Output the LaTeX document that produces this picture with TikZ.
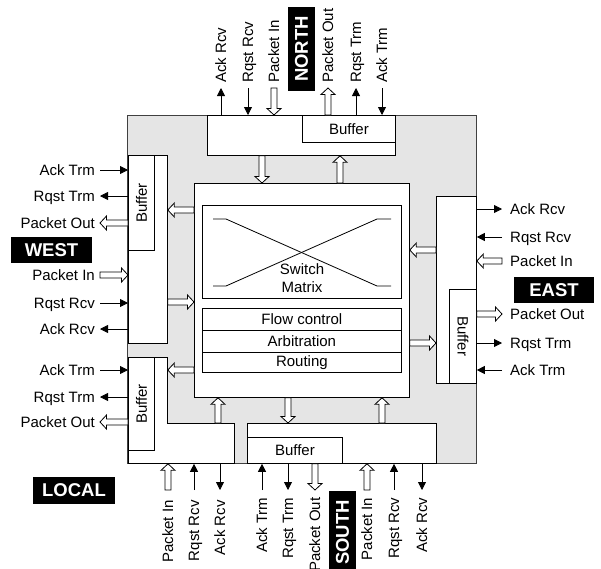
\documentclass[tikz,border=0pt]{standalone}
\usepackage{fontspec}
\setmainfont{Liberation Sans}
\usetikzlibrary{arrows.meta,calc}
\begin{document}
\begin{tikzpicture}[x=1pt,y=-1pt,
 box/.style={draw=black,fill=white,line width=0.8pt,inner sep=0pt,anchor=north west,font=\fontsize{15}{18}\selectfont},
 sarr/.style={draw=black,line width=0.8pt,-{Triangle[length=8pt,width=8pt]}},
 hollow/.style={draw=black,fill=white,line width=0.8pt,line join=miter,
   to path={($(\tikztostart)!3pt!90:(\tikztotarget)$)
    -- ($(\tikztotarget)!6.5pt!(\tikztostart)!3pt!-90:(\tikztostart)$)
    -- ($(\tikztotarget)!6.5pt!(\tikztostart)!7pt!-90:(\tikztostart)$)
    -- (\tikztotarget)
    -- ($(\tikztotarget)!6.5pt!(\tikztostart)!7pt!90:(\tikztostart)$)
    -- ($(\tikztotarget)!6.5pt!(\tikztostart)!3pt!90:(\tikztostart)$)
    -- ($(\tikztostart)!3pt!-90:(\tikztotarget)$) -- cycle}},
 lbl/.style={inner sep=0pt,text height=10pt,text depth=0pt,font=\fontsize{15}{18}\selectfont},
 txt/.style={inner sep=0pt,font=\fontsize{15}{18}\selectfont},
 tag/.style={fill=black,text=white,inner sep=0pt,font=\fontsize{18.5}{20}\selectfont\bfseries}
]
\fill[white] (0,0) rectangle (601,568);
\useasboundingbox (0,0) rectangle (601,568);
% router frame
\draw[fill=black!10,draw=black!75,line width=0.8pt] (127,115) rectangle (476,463);

% port boxes
\node[box,minimum width=188pt,minimum height=40pt] (nbox) at (207,115) {};
\node[box,minimum width=93pt,minimum height=27pt] (nbuf) at (302,115) {Buffer};
\node[box,minimum width=39pt,minimum height=188pt] (wbox) at (128,155) {};
\node[box,minimum width=26pt,minimum height=95pt] (wbuf) at (128,155) {};
\node[txt,rotate=90] at (wbuf.center) {Buffer};
\draw[fill=white,line width=0.8pt] (128,357) -- (167,357) -- (167,423) -- (234,423) -- (234,463) -- (128,463) -- cycle;
\node[box,minimum width=26pt,minimum height=93pt] (lbuf) at (128,357) {};
\node[txt,rotate=90] at (lbuf.center) {Buffer};
\node[box,minimum width=189pt,minimum height=40pt] (sbox) at (247,423) {};
\node[box,minimum width=95pt,minimum height=26pt] (sbuf) at (247,437) {Buffer};
\node[box,minimum width=40pt,minimum height=187pt] (ebox) at (436,196) {};
\node[box,minimum width=27pt,minimum height=94pt] (ebuf) at (449,289) {};
\node[txt,rotate=-90] at (ebuf.center) {Buffer};

% crossbar core
\node[box,minimum width=215pt,minimum height=214pt] (cbox) at (194,183) {};
\node[box,minimum width=199pt,minimum height=93pt] (swm) at (202,205) {};
\draw[line width=0.8pt] (213,219) -- (226,219) -- (377,286) -- (391,286);
\draw[line width=0.8pt] (213,286) -- (226,286) -- (377,219) -- (391,219);
\node[txt,align=center,fill=none] at (302,278.5) {Switch\\Matrix};
\node[box,minimum width=199pt,minimum height=22pt] (flow) at (202,308) {Flow control};
\node[box,minimum width=199pt,minimum height=22pt] (arb) at (202,330) {Arbitration};
\node[box,minimum width=199pt,minimum height=20pt] (rout) at (202,352) {Routing};

% internal channels
\coordinate (xN1) at (262,0); \coordinate (xN2) at (340,0);
\coordinate (xL) at (218,0); \coordinate (xS1) at (288,0); \coordinate (xS2) at (382,0);
\coordinate (yW1) at (0,210); \coordinate (yW2) at (0,302); \coordinate (yL) at (0,370);
\coordinate (yE1) at (0,250); \coordinate (yE2) at (0,343);
\draw[hollow] (nbox.south -| xN1) to (cbox.north -| xN1);
\draw[hollow] (cbox.north -| xN2) to (nbox.south -| xN2);
\draw[hollow] (cbox.west |- yW1) to (wbox.east |- yW1);
\draw[hollow] (wbox.east |- yW2) to (cbox.west |- yW2);
\draw[hollow] (cbox.west |- yL) to (wbox.east |- yL);
\draw[hollow] (sbox.north -| xL) to (cbox.south -| xL);
\draw[hollow] (cbox.south -| xS1) to (sbox.north -| xS1);
\draw[hollow] (sbox.north -| xS2) to (cbox.south -| xS2);
\draw[hollow] (ebox.west |- yE1) to (cbox.east |- yE1);
\draw[hollow] (cbox.east |- yE2) to (ebox.west |- yE2);

% NORTH port
\node[lbl,rotate=90,anchor=west] (nAR) at (221,83) {Ack Rcv};
\node[lbl,rotate=90,anchor=west] (nRR) at (248,83) {Rqst Rcv};
\node[lbl,rotate=90,anchor=west] (nPI) at (274,83) {Packet In};
\node[lbl,rotate=90,anchor=west] (nPO) at (328,83) {Packet Out};
\node[lbl,rotate=90,anchor=west] (nRT) at (356,83) {Rqst Trm};
\node[lbl,rotate=90,anchor=west] (nAT) at (382,83) {Ack Trm};
\coordinate (nPIc) at ([yshift=-5pt]nPI.west);
\coordinate (nPOc) at ([yshift=-5pt]nPO.west);
\draw[sarr] (nAR.west |- nbox.north) -- ([yshift=-5pt]nAR.west);
\draw[sarr] ([yshift=-5pt]nRR.west) -- (nRR.west |- nbox.north);
\draw[hollow] (nPIc) to (nPI.west |- nbox.north);
\draw[hollow] (nPO.west |- nbox.north) to (nPOc);
\draw[sarr] (nRT.west |- nbox.north) -- ([yshift=-5pt]nRT.west);
\draw[sarr] ([yshift=-5pt]nAT.west) -- (nAT.west |- nbox.north);
\node[tag,rotate=90,minimum width=84pt,minimum height=27pt] (northtag) at (301.5,49) {NORTH};

% WEST port
\node[lbl,anchor=east] (wAT) at (95,170) {Ack Trm};
\node[lbl,anchor=east] (wRT) at (95,196) {Rqst Trm};
\node[lbl,anchor=east] (wPO) at (95,223) {Packet Out};
\node[lbl,anchor=east] (wPI) at (95,275) {Packet In};
\node[lbl,anchor=east] (wRR) at (95,303) {Rqst Rcv};
\node[lbl,anchor=east] (wAR) at (95,329) {Ack Rcv};
\coordinate (wPOc) at ([xshift=5pt]wPO.east);
\coordinate (wPIc) at ([xshift=5pt]wPI.east);
\draw[sarr] ([xshift=5pt]wAT.east) -- (wAT.east -| wbox.west);
\draw[sarr] (wRT.east -| wbox.west) -- ([xshift=5pt]wRT.east);
\draw[hollow] (wPO.east -| wbox.west) to (wPOc);
\draw[hollow] (wPIc) to (wPI.east -| wbox.west);
\draw[sarr] ([xshift=5pt]wRR.east) -- (wRR.east -| wbox.west);
\draw[sarr] (wAR.east -| wbox.west) -- ([xshift=5pt]wAR.east);
\node[tag,minimum width=81pt,minimum height=26pt] (westtag) at (51.5,250) {WEST};

% LOCAL port
\node[lbl,anchor=east] (lAT) at (95,370) {Ack Trm};
\node[lbl,anchor=east] (lRT) at (95,397) {Rqst Trm};
\node[lbl,anchor=east] (lPO) at (95,422) {Packet Out};
\coordinate (lPOc) at ([xshift=5pt]lPO.east);
\draw[sarr] ([xshift=5pt]lAT.east) -- (lAT.east -| wbox.west);
\draw[sarr] (lRT.east -| wbox.west) -- ([xshift=5pt]lRT.east);
\draw[hollow] (lPO.east -| wbox.west) to (lPOc);
\node[lbl,rotate=90,anchor=east] (lPI) at (168,500) {Packet In};
\node[lbl,rotate=90,anchor=east] (lRR) at (194,500) {Rqst Rcv};
\node[lbl,rotate=90,anchor=east] (lAR) at (220,500) {Ack Rcv};
\coordinate (lPIc) at ([yshift=10pt]lPI.east);
\draw[hollow] (lPIc) to (lPI.east |- sbox.south);
\draw[sarr] ([yshift=10pt]lRR.east) -- (lRR.east |- sbox.south);
\draw[sarr] (lAR.east |- sbox.south) -- ([yshift=10pt]lAR.east);
\node[tag,minimum width=82pt,minimum height=27pt] (localtag) at (74,490.5) {LOCAL};

% SOUTH port
\node[lbl,rotate=90,anchor=east] (sAT) at (262,497.5) {Ack Trm};
\node[lbl,rotate=90,anchor=east] (sRT) at (288,497.5) {Rqst Trm};
\node[lbl,rotate=90,anchor=east] (sPO) at (315,497.5) {Packet Out};
\node[lbl,rotate=90,anchor=east] (sPI) at (367,497.5) {Packet In};
\node[lbl,rotate=90,anchor=east] (sRR) at (394,497.5) {Rqst Rcv};
\node[lbl,rotate=90,anchor=east] (sAR) at (422,497.5) {Ack Rcv};
\coordinate (sPOc) at ([yshift=7.5pt]sPO.east);
\coordinate (sPIc) at ([yshift=7.5pt]sPI.east);
\draw[sarr] ([yshift=7.5pt]sAT.east) -- (sAT.east |- sbox.south);
\draw[sarr] (sRT.east |- sbox.south) -- ([yshift=7.5pt]sRT.east);
\draw[hollow] (sPO.east |- sbox.south) to (sPOc);
\draw[hollow] (sPIc) to (sPI.east |- sbox.south);
\draw[sarr] ([yshift=7.5pt]sRR.east) -- (sRR.east |- sbox.south);
\draw[sarr] (sAR.east |- sbox.south) -- ([yshift=7.5pt]sAR.east);
\node[tag,rotate=90,minimum width=84pt,minimum height=27pt] (southtag) at (342.5,532.5) {SOUTH};

% EAST port
\node[lbl,anchor=west] (eAR) at (510,209) {Ack Rcv};
\node[lbl,anchor=west] (eRR) at (510,237) {Rqst Rcv};
\node[lbl,anchor=west] (ePI) at (510,261) {Packet In};
\node[lbl,anchor=west] (ePO) at (510,314) {Packet Out};
\node[lbl,anchor=west] (eRT) at (510,343) {Rqst Trm};
\node[lbl,anchor=west] (eAT) at (510,370) {Ack Trm};
\coordinate (ePIc) at ([xshift=-8pt]ePI.west);
\coordinate (ePOc) at ([xshift=-8pt]ePO.west);
\draw[sarr] (eAR.west -| ebox.east) -- ([xshift=-8pt]eAR.west);
\draw[sarr] ([xshift=-8pt]eRR.west) -- (eRR.west -| ebox.east);
\draw[hollow] (ePIc) to (ePI.west -| ebox.east);
\draw[hollow] (ePO.west -| ebox.east) to (ePOc);
\draw[sarr] (eRT.west -| ebox.east) -- ([xshift=-8pt]eRT.west);
\draw[sarr] ([xshift=-8pt]eAT.west) -- (eAT.west -| ebox.east);
\node[tag,minimum width=80pt,minimum height=26pt] (easttag) at (554,290) {EAST};
\end{tikzpicture}
\end{document}
